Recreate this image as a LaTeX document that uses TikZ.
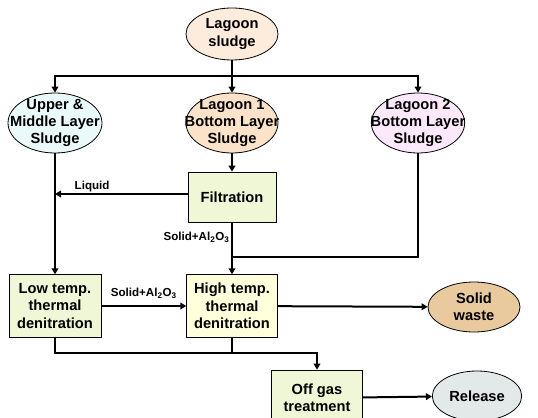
\documentclass[tikz,border=0pt]{standalone}
\usepackage{fontspec}
\setmainfont{Liberation Sans}
\usetikzlibrary{shapes.geometric, arrows.meta}
\definecolor{peach}{HTML}{FDEBDB}
\definecolor{peachdark}{HTML}{FBE2C8}
\definecolor{icecyan}{HTML}{EAFAFA}
\definecolor{lilac}{HTML}{FBE9FB}
\definecolor{leaf}{HTML}{EFF7D6}
\definecolor{cream}{HTML}{FFFFDC}
\definecolor{tan}{HTML}{E9C99E}
\definecolor{mist}{HTML}{E3E9E8}
\tikzset{blob/.style = {draw, ellipse, inner sep = -30pt, align = center, line width = 0.6pt,
                        font = \bfseries\fontsize{11}{13}\selectfont},
         stage/.style = {draw, rectangle, inner sep = 0, align = center, line width = 0.6pt,
                         font = \bfseries\fontsize{11}{13}\selectfont},
         link/.style = {line width = 1.5pt},
         flow/.style = {line width = 1.5pt, -{Triangle[length = 4.5pt, width = 5pt]}},
         tag/.style = {font = \bfseries\fontsize{8.7}{10}\selectfont, inner sep = 1pt}}

\begin{document}
\begin{tikzpicture}[x = 0.75pt, y = -0.75pt]
    \useasboundingbox (0, 0) rectangle (538, 417);
    \clip (0, 0) rectangle (538, 417);

    % sources
    \node [blob, fill = peach, minimum width = 69pt, minimum height = 39pt] (sludge) at (232, 34) {Lagoon\\sludge};
    \node [blob, fill = icecyan, minimum width = 70.5pt, minimum height = 45pt] (upper) at (55, 123) {Upper \&\\Middle Layer\\Sludge};
    \node [blob, fill = peachdark, minimum width = 69pt, minimum height = 45pt] (lagone) at (232, 123) {Lagoon 1\\Bottom Layer\\Sludge};
    \node [blob, fill = lilac, minimum width = 70pt, minimum height = 45pt] (lagtwo) at (418, 123) {Lagoon 2\\Bottom Layer\\Sludge};

    % process steps
    \node [stage, fill = leaf, minimum width = 66pt, minimum height = 37.5pt] (filt) at (232, 197) {Filtration};
    \node [stage, fill = leaf, minimum width = 69pt, minimum height = 47pt] (low) at (55, 306) {Low temp.\\thermal\\denitration};
    \node [stage, fill = cream, minimum width = 68pt, minimum height = 47pt] (high) at (232, 306) {High temp.\\thermal\\denitration};
    \node [stage, fill = leaf, minimum width = 68pt, minimum height = 42pt] (offgas) at (317, 398) {Off gas\\treatment};

    % outputs
    \node [blob, fill = tan, minimum width = 69pt, minimum height = 37.5pt] (waste) at (474, 307) {Solid\\waste};
    \node [blob, fill = mist, minimum width = 67pt, minimum height = 37.5pt] (release) at (477, 396) {Release};

    \coordinate (split) at (232, 76);
    \coordinate (liq) at (55, 194);
    \coordinate (join) at (232, 257);
    \coordinate (gas) at (232, 353);

    \draw [link] (sludge) -- (split);
    \draw [flow] (split) -| (upper);
    \draw [flow] (split) -- (lagone);
    \draw [flow] (split) -| (lagtwo);

    \draw [flow] (lagone) -- (filt);
    \draw [flow] (filt.west |- liq) -- (liq) node [tag, above, pos = 0.72] {Liquid};
    \draw [flow] (upper) -- (low);
    \draw [flow] (filt) -- (high) node [tag, left, pos = 0.29] {Solid+Al\textsubscript{2}O\textsubscript{3}};
    \draw [link] (lagtwo) |- (join);

    \draw [flow] (low) -- (high) node [tag, above, midway, yshift = 4pt] {Solid+Al\textsubscript{2}O\textsubscript{3}};
    \draw [flow] (high) -- (waste);

    \draw [link] (high) -- (gas);
    \draw [flow] (low) |- (gas) -| (offgas);
    \draw [flow] (offgas) -- (release);
  \end{tikzpicture}
\end{document}
